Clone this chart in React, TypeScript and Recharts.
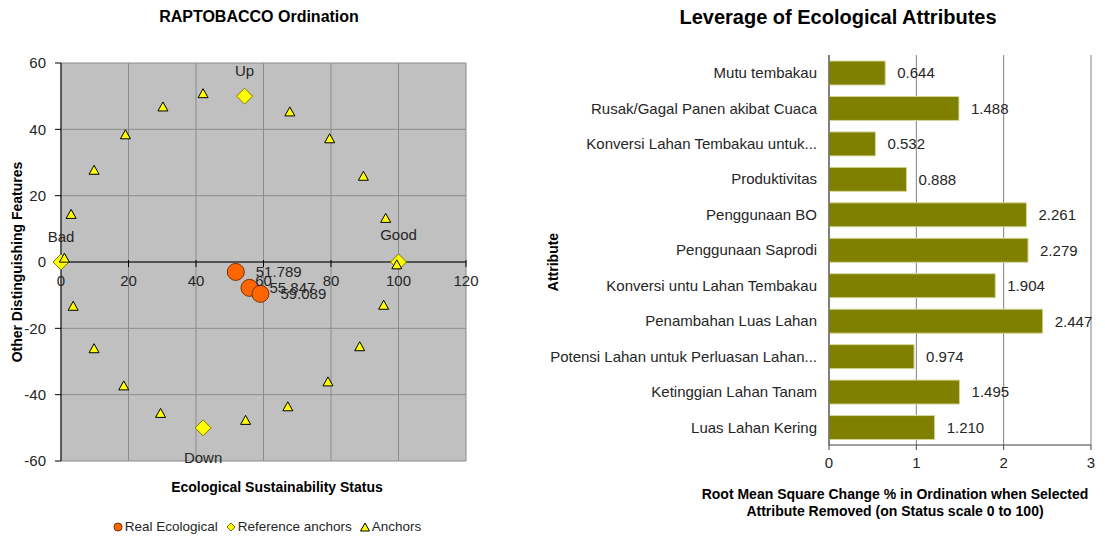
import React from "react";
import {
  ScatterChart,
  Scatter,
  XAxis,
  YAxis,
  CartesianGrid,
  ReferenceLine,
  ReferenceDot,
  BarChart,
  Bar,
  LabelList,
} from "recharts";

// ordination (left)
const realX = [51.789, 55.847, 59.089];
const realY = [-3.0, -7.8, -9.6];

const refNames = ["Bad", "Good", "Up", "Down"];
const refX = [0, 100, 54.4, 42.1];
const refY = [0, 0, 50, -50];

const anchorX = [1, 3, 9.8, 19.1, 30.2, 42.1, 67.8, 79.6, 89.6, 96.2, 99.5, 3.6, 9.8, 18.6, 29.5, 54.7, 67.2, 79.1, 88.5, 95.6];
const anchorY = [1, 14.2, 27.5, 38.2, 46.6, 50.6, 45.1, 37, 25.7, 13, -1, -13.5, -26.3, -37.5, -45.8, -47.9, -43.8, -36.3, -25.7, -13.2];

const ordXTicks = [0, 20, 40, 60, 80, 100, 120];
const ordYTicks = [-60, -40, -20, 0, 20, 40, 60];

// leverage (right)
const attributes = [
  "Mutu tembakau",
  "Rusak/Gagal Panen akibat Cuaca",
  "Konversi Lahan Tembakau untuk...",
  "Produktivitas",
  "Penggunaan BO",
  "Penggunaan Saprodi",
  "Konversi untu Lahan Tembakau",
  "Penambahan Luas Lahan",
  "Potensi Lahan untuk Perluasan Lahan...",
  "Ketinggian Lahan Tanam",
  "Luas Lahan Kering",
];
const leverage = [0.644, 1.488, 0.532, 0.888, 2.261, 2.279, 1.904, 2.447, 0.974, 1.495, 1.21];
const levTicks = [0, 1, 2, 3];
const boundaryTicks = [0, 1, 2, 3, 4, 5, 6, 7, 8, 9, 10, 11];

const FONT = '"Liberation Sans", Arial, sans-serif';
const TXT = "#262626";

const realData = realX.map((x, i) => ({ x, y: realY[i] }));
const refData = refX.map((x, i) => ({ x, y: refY[i], name: refNames[i] }));
const anchorData = anchorX.map((x, i) => ({ x, y: anchorY[i] }));
const levData = attributes.map((name, i) => ({ name, value: leverage[i] }));

const refLabelDy: Record<string, number> = { Bad: -20, Good: -22, Up: -20, Down: 35 };

const RealDot = (p: any) => (
  <g>
    <circle cx={p.cx} cy={p.cy} r={8.5} fill="#ff6600" stroke="#7a3000" strokeWidth={1} />
    <text x={p.cx + 20} y={p.cy} dy="0.35em" fontSize={15} fill={TXT} fontFamily={FONT}>
      {p.payload.x.toFixed(3)}
    </text>
  </g>
);

const RefDiamond = (p: any) => {
  const { cx, cy } = p;
  const h = 8;
  return (
    <g>
      <polygon
        points={`${cx},${cy - h} ${cx + h},${cy} ${cx},${cy + h} ${cx - h},${cy}`}
        fill="#ffff00"
        stroke="#7a7a00"
        strokeWidth={1}
      />
      <text x={cx} y={cy + refLabelDy[p.payload.name]} textAnchor="middle" fontSize={15} fill={TXT} fontFamily={FONT}>
        {p.payload.name}
      </text>
    </g>
  );
};

const AnchorTri = (p: any) => {
  const { cx, cy } = p;
  return (
    <polygon
      points={`${cx},${cy - 5.5} ${cx + 5},${cy + 3.5} ${cx - 5},${cy + 3.5}`}
      fill="#ffff00"
      stroke="#000"
      strokeWidth={1}
    />
  );
};

const ZeroTick = (p: any) => (
  <line x1={p.cx} x2={p.cx} y1={p.cy - 2} y2={p.cy + 5} stroke="#000" />
);

function Ordination() {
  return (
    <div style={{ position: "absolute", left: 0, top: 0, width: 480, height: 537 }}>
      <ScatterChart width={480} height={537} margin={{ top: 63, right: 14, bottom: 76, left: 0 }}>
        <CartesianGrid stroke="#8c8c8c" fill="#c0c0c0" fillOpacity={1} />
        <XAxis type="number" dataKey="x" domain={[0, 120]} ticks={ordXTicks} hide />
        <YAxis
          type="number"
          dataKey="y"
          domain={[-60, 60]}
          ticks={ordYTicks}
          width={61}
          tickSize={6}
          tickMargin={9}
          axisLine={{ stroke: "#000" }}
          tickLine={{ stroke: "#000" }}
          tick={{ fill: TXT, fontSize: 15, fontFamily: FONT }}
        />
        <ReferenceLine y={0} stroke="#000" />
        {ordXTicks.map((t) => (
          <ReferenceDot
            key={t}
            x={t}
            y={0}
            r={0}
            shape={ZeroTick}
            label={{ value: t, position: "bottom", offset: 13, fill: TXT, fontSize: 15, fontFamily: FONT }}
          />
        ))}
        <Scatter data={refData} shape={RefDiamond} isAnimationActive={false} />
        <Scatter data={anchorData} shape={AnchorTri} isAnimationActive={false} />
        <Scatter data={realData} shape={RealDot} isAnimationActive={false} />
      </ScatterChart>
      <div style={{ position: "absolute", left: 0, width: 518, top: 8, textAlign: "center", font: `bold 16px ${FONT}` }}>
        RAPTOBACCO Ordination
      </div>
      <div style={{ position: "absolute", left: 0, width: 554, top: 479, textAlign: "center", font: `bold 14px ${FONT}` }}>
        Ecological Sustainability Status
      </div>
      <div
        style={{
          position: "absolute",
          left: 17 - 150,
          top: 262 - 9,
          width: 300,
          textAlign: "center",
          transform: "rotate(-90deg)",
          font: `bold 14px ${FONT}`,
          lineHeight: "18px",
        }}
      >
        Other Distinguishing Features
      </div>
      <div
        style={{
          position: "absolute",
          left: 0,
          width: 534,
          top: 519,
          display: "flex",
          justifyContent: "center",
          alignItems: "center",
          font: `13.5px ${FONT}`,
          color: TXT,
        }}
      >
        <svg width={10} height={10} style={{ marginRight: 2 }}>
          <circle cx={5} cy={5} r={4} fill="#ff6600" stroke="#7a3000" />
        </svg>
        <span style={{ marginRight: 8 }}>Real Ecological</span>
        <svg width={10} height={10} style={{ marginRight: 2 }}>
          <polygon points="5,1 9,5 5,9 1,5" fill="#ffff00" stroke="#7a7a00" />
        </svg>
        <span style={{ marginRight: 8 }}>Reference anchors</span>
        <svg width={10} height={10} style={{ marginRight: 2 }}>
          <polygon points="5,1 9.5,9 0.5,9" fill="#ffff00" stroke="#000" />
        </svg>
        <span>Anchors</span>
      </div>
    </div>
  );
}

function Leverage() {
  return (
    <div style={{ position: "absolute", left: 540, top: 0, width: 565, height: 537 }}>
      <BarChart
        width={565}
        height={537}
        layout="vertical"
        data={levData}
        margin={{ top: 55, right: 14, bottom: 62, left: 0 }}
      >
        <CartesianGrid horizontal={false} stroke="#808080" />
        <XAxis
          type="number"
          domain={[0, 3]}
          ticks={levTicks}
          height={30}
          tickSize={5}
          tickMargin={7}
          axisLine={{ stroke: "#404040" }}
          tickLine={{ stroke: "#404040" }}
          tick={{ fill: TXT, fontSize: 15, fontFamily: FONT }}
        />
        <YAxis
          yAxisId="grid"
          type="number"
          domain={[0, 11]}
          ticks={boundaryTicks}
          width={1}
          tick={false}
          tickSize={5}
          axisLine={false}
          tickLine={{ stroke: "#404040" }}
        />
        <YAxis
          yAxisId="cat"
          type="category"
          dataKey="name"
          width={288}
          tickSize={6}
          tickMargin={6}
          tickLine={false}
          axisLine={{ stroke: "#404040" }}
          interval={0}
          tick={{ fill: TXT, fontSize: 15, fontFamily: FONT }}
        />
        <ReferenceLine yAxisId="grid" y={11} stroke="#808080" />
        <Bar
          yAxisId="cat"
          dataKey="value"
          fill="#808000"
          stroke="#d6d69a"
          strokeWidth={1}
          barSize={24}
          isAnimationActive={false}
        >
          <LabelList
            dataKey="value"
            position="right"
            offset={12}
            fill={TXT}
            fontSize={15}
            fontFamily={FONT}
            formatter={(v: any) => Number(v).toFixed(3)}
          />
        </Bar>
      </BarChart>
      <div style={{ position: "absolute", left: 0, width: 596, top: 6, textAlign: "center", font: `bold 20px ${FONT}` }}>
        Leverage of Ecological Attributes
      </div>
      <div
        style={{
          position: "absolute",
          left: 150,
          width: 410,
          top: 486,
          textAlign: "center",
          font: `bold 14px ${FONT}`,
          lineHeight: "17px",
        }}
      >
        Root Mean Square Change % in Ordination when Selected
        <br />
        Attribute Removed (on Status scale 0 to 100)
      </div>
      <div
        style={{
          position: "absolute",
          left: 13 - 100,
          top: 262 - 9,
          width: 200,
          textAlign: "center",
          transform: "rotate(-90deg)",
          font: `bold 14px ${FONT}`,
          lineHeight: "18px",
        }}
      >
        Attribute
      </div>
    </div>
  );
}

export default function App() {
  return (
    <div style={{ position: "relative", width: 1105, height: 537, background: "#fff", fontFamily: FONT }}>
      <div style={{ position: "absolute", left: -8, top: -8, width: 1105, height: 537 }}>
        <Ordination />
        <Leverage />
      </div>
    </div>
  );
}
